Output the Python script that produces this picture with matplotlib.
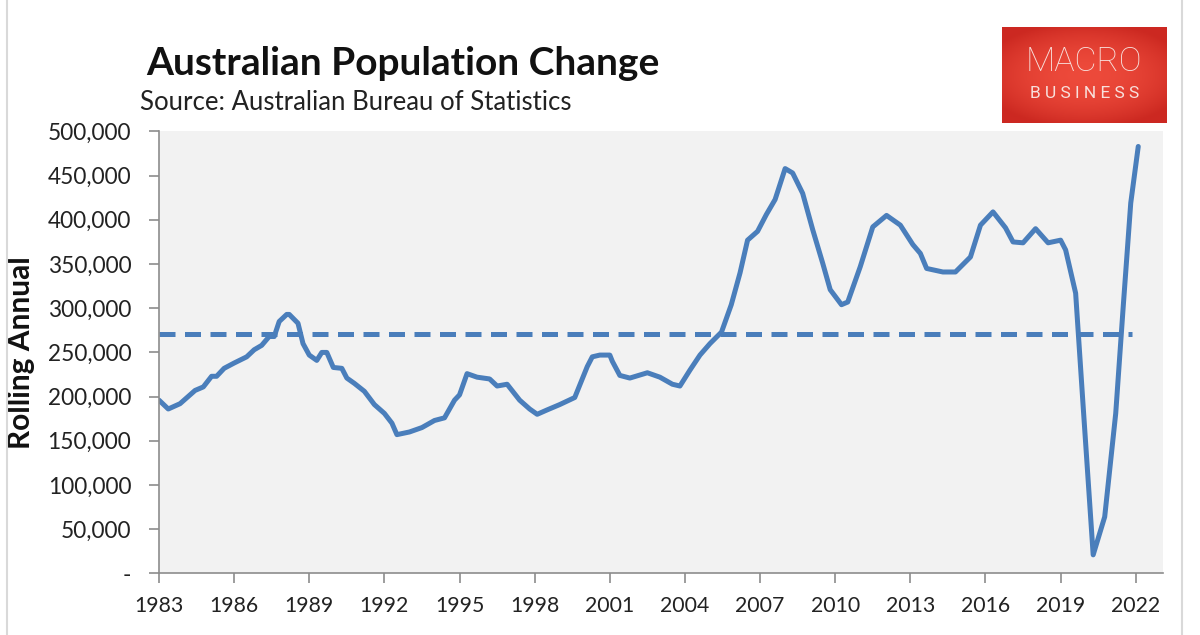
import matplotlib.pyplot as plt
import matplotlib.ticker as mticker
from matplotlib.lines import Line2D
import numpy as np

# values (decimal year, persons per year)
years = [1983.0, 1983.37, 1983.84, 1984.44, 1984.77, 1985.1, 1985.3, 1985.6,
         1986.0, 1986.5, 1986.8, 1987.1, 1987.4, 1987.6, 1987.8, 1988.1,
         1988.2, 1988.55, 1988.75, 1989.0, 1989.3, 1989.5, 1989.7, 1989.96,
         1990.3, 1990.5, 1990.8, 1991.2, 1991.6, 1992.0, 1992.3, 1992.5,
         1993.0, 1993.2, 1993.5, 1994.0, 1994.4, 1994.8, 1995.0, 1995.3,
         1995.7, 1996.2, 1996.5, 1996.9, 1997.4, 1997.8, 1998.1, 1998.5,
         1999.0, 1999.6, 2000.1, 2000.3, 2000.6, 2001.0, 2001.1, 2001.4,
         2001.8, 2002.5, 2003.0, 2003.5, 2003.8, 2004.2, 2004.6, 2005.0,
         2005.46, 2005.85, 2006.2, 2006.5, 2006.9, 2007.25, 2007.6, 2008.0,
         2008.3, 2008.7, 2009.1, 2009.5, 2009.8, 2010.25, 2010.5, 2011.0,
         2011.5, 2012.05, 2012.6, 2013.1, 2013.4, 2013.65, 2014.3, 2014.8,
         2015.4, 2015.8, 2016.3, 2016.8, 2017.1, 2017.5, 2018.0, 2018.5,
         2019.0, 2019.2, 2019.6, 2019.9, 2020.3, 2020.76, 2021.2, 2021.5,
         2021.8, 2022.1]
change = [196000, 186000, 192000, 207000, 211000, 223000, 223000, 232000,
          238000, 245000, 253000, 258000, 268000, 268000, 285000, 293000,
          293000, 283000, 260000, 247000, 241000, 250000, 250000, 233000,
          232000, 221000, 215000, 206000, 191000, 181000, 170000, 157000,
          160000, 162000, 165000, 173000, 176000, 196000, 202000, 226000,
          222000, 220000, 212000, 214000, 196000, 186000, 180000, 185000,
          191000, 199000, 234000, 245000, 247000, 247000, 240000, 224000,
          221000, 227000, 222000, 214000, 212000, 230000, 247000, 260000,
          273000, 304000, 340000, 377000, 387000, 406000, 423000, 458000,
          453000, 430000, 389000, 351000, 321000, 304000, 307000, 347000,
          392000, 405000, 394000, 372000, 362000, 345000, 341000, 341000,
          358000, 394000, 409000, 391000, 375000, 374000, 390000, 374000,
          377000, 366000, 317000, 189000, 21000, 64000, 181000, 302000,
          419000, 483000]
avg_value = 271000
avg_span = [1983.0, 2021.85]

year_ticks = list(range(1983, 2023, 3))
value_ticks = list(range(0, 500001, 50000))

blue = '#4a7ebb'
font = 'Lato'

fig = plt.figure(figsize=(12, 6.35), dpi=100)
ax = fig.add_axes([0.1325, 0.097, 0.8365, 0.696])
ax.set_facecolor('#f2f2f2')

ax.plot(years, change, color=blue, lw=3.6, solid_joinstyle='round',
        solid_capstyle='round')
ax.hlines(avg_value, avg_span[0], avg_span[1], color=blue, lw=3.6,
          linestyles=(0, (3.2, 1.9)))

ax.set_xlim(1983, 2023.08)
ax.set_ylim(0, 500000)
ax.set_xticks(year_ticks)
ax.set_yticks(value_ticks)
ax.yaxis.set_major_formatter(mticker.FuncFormatter(
    lambda v, p: '-' if v == 0 else '{:,.0f}'.format(v)))

for s in ['top', 'right']:
    ax.spines[s].set_visible(False)
for s in ['left', 'bottom']:
    ax.spines[s].set_color('#8c8c8c')
    ax.spines[s].set_linewidth(1.2)
ax.tick_params(axis='both', colors='#8c8c8c', length=7, width=1.2,
               labelcolor='#222222')
ax.tick_params(axis='x', pad=9, labelsize=15.3)
ax.tick_params(axis='y', pad=13, labelsize=16.3)
for lab in ax.get_xticklabels() + ax.get_yticklabels():
    lab.set_fontfamily(font)

ax.set_ylabel('Rolling Annual', fontsize=21.5, fontweight='bold',
              family=font, color='#111111')
ax.yaxis.set_label_coords(-0.124, 0.5)

fig.text(0.122, 0.882, 'Australian Population Change', fontsize=28,
         fontweight='bold', family=font, color='#111111')
fig.text(0.117, 0.826, 'Source: Australian Bureau of Statistics',
         fontsize=18.5, family=font, color='#222222')

# MacroBusiness logo box, slightly darker towards the edges
lx = fig.add_axes([0.835, 0.807, 0.137, 0.151])
gx, gy = np.meshgrid(np.linspace(-1, 1, 80), np.linspace(-1, 1, 50))
shade = np.clip(np.sqrt(gx ** 2 * 0.6 + gy ** 2 * 0.8), 0, 1)
red_a = np.array([0.93, 0.29, 0.23])
red_b = np.array([0.80, 0.16, 0.13])
lx.imshow(red_a + (red_b - red_a) * shade[..., None] ** 2, aspect='auto',
          extent=[0, 1, 0, 1])
lx.set_axis_off()
lx.text(0.5, 0.63, 'MACRO', fontsize=24.5, family='Roboto', fontweight='light',
        color='#f8e0dc', ha='center', va='center', transform=lx.transAxes)
lx.text(0.5, 0.3, 'B U S I N E S S', fontsize=12.5, family='Roboto',
        color='#f8e0dc', ha='center', va='center', transform=lx.transAxes)

# faint frame edges of the screenshot
fig.lines.append(Line2D([0.006, 0.006], [0, 1], transform=fig.transFigure,
                        color='#d9d9d9', lw=1.5))
fig.lines.append(Line2D([0.985, 0.985], [0, 1], transform=fig.transFigure,
                        color='#d9d9d9', lw=1.5))

fig.savefig('out.png', dpi=100)
